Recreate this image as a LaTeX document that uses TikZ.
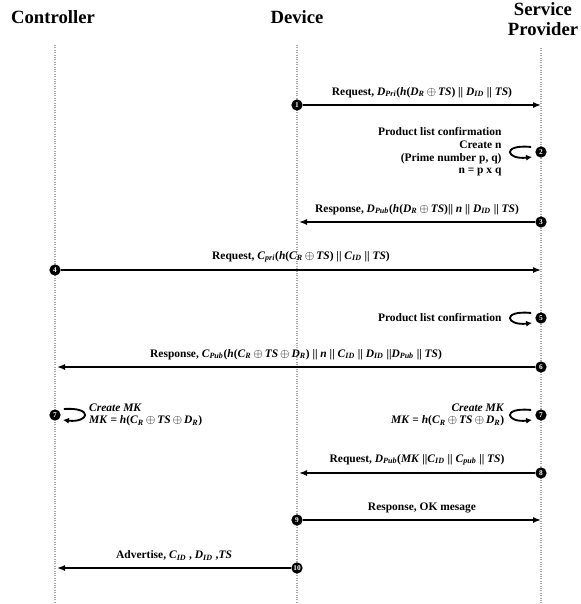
\documentclass[tikz,border=0pt]{standalone}
\usepackage{fontspec}
\setmainfont{Liberation Serif}
\usepackage{amsmath,amssymb}
\usetikzlibrary{arrows.meta,positioning}

% bold italic symbol with subscript
\newcommand{\bv}[2]{\textbf{\textit{#1}}\textsubscript{\textbf{\textit{#2}}}}
\newcommand{\bi}[1]{\textbf{\textit{#1}}}
\newcommand{\xo}{\,$\oplus$\,}

\begin{document}
\begin{tikzpicture}[x=0.75pt, y=-0.75pt,
    actor/.style={font=\fontsize{14}{14.5}\selectfont\bfseries, align=center},
    lifeline/.style={gray!70, densely dotted, line width=0.8pt},
    stepnum/.style={circle, fill=black, inner sep=0pt, minimum size=8.5pt,
                    text=white, font=\fontsize{5.5}{5.5}\selectfont\bfseries},
    msg/.style={-{Latex[length=6pt,width=4.5pt]}, line width=1.1pt},
    loopy/.style={-{Latex[length=4.5pt,width=4.5pt]}, line width=1.4pt},
    lbl/.style={font=\fontsize{8.6}{9.5}\selectfont\bfseries, inner sep=1pt}
]
\useasboundingbox (0,0) rectangle (581,604);

% Actors
\node[actor] (ctl) at (53,17) {Controller};
\node[actor] (dev) at (297,17) {Device};
\node[actor] (sp) at (543,19) {Service\\Provider};

% Lifelines
\coordinate (ctltop) at (55,45);
\coordinate (ctlbot) at (55,604);
\coordinate (devtop) at (297,45);
\coordinate (devbot) at (297,604);
\coordinate (sptop) at (541,48);
\coordinate (spbot) at (541,604);
\draw[lifeline] (ctltop) -- (ctlbot);
\draw[lifeline] (devtop) -- (devbot);
\draw[lifeline] (sptop) -- (spbot);

% Steps
\node[stepnum] (s1) at (297,105) {1};
\node[stepnum] (s2) at (541,152) {2};
\node[stepnum] (s3) at (541,222) {3};
\node[stepnum] (s4) at (55,270) {4};
\node[stepnum] (s5) at (541,318) {5};
\node[stepnum] (s6) at (541,367) {6};
\node[stepnum] (c7) at (55,415) {7};
\node[stepnum] (s7) at (541,415) {7};
\node[stepnum] (s8) at (541,473) {8};
\node[stepnum] (s9) at (297,520) {9};
\node[stepnum] (s10) at (297,568) {10};

% Message ends
\coordinate (e1) at (541,105);
\coordinate (e3) at (299,222);
\coordinate (e4) at (541,270);
\coordinate (e6) at (57,367);
\coordinate (e8) at (299,473);
\coordinate (e9) at (541,520);
\coordinate (e10) at (57,568);

% Messages
\draw[msg] (s1) -- (e1) node[lbl, midway, above=4pt]
    {Request, \bv{D}{Pri}(\bi{h}(\bv{D}{R}\xo\bi{TS}) || \bv{D}{ID} || \bi{TS})};
\draw[msg] (s3) -- (e3) node[lbl, midway, above=4pt]
    {Response, \bv{D}{Pub}(\bi{h}(\bv{D}{R}\xo\bi{TS})|| \bi{n} || \bv{D}{ID} || \bi{TS})};
\draw[msg] (s4) -- (e4) node[lbl, midway, above=4pt]
    {Request, \bv{C}{pri}(\bi{h}(\bv{C}{R}\xo\bi{TS}) || \bv{C}{ID} || \bi{TS})};
\draw[msg] (s6) -- (e6) node[lbl, midway, above=4pt]
    {Response, \bv{C}{Pub}(\bi{h}(\bv{C}{R}\xo\bi{TS}\xo\bv{D}{R}) || \bi{n} || \bv{C}{ID} || \bv{D}{ID} ||\bv{D}{Pub} || \bi{TS})};
\draw[msg] (s8) -- (e8) node[lbl, midway, above=4pt]
    {Request, \bv{D}{Pub}(\bi{MK} ||\bv{C}{ID} || \bv{C}{pub} || \bi{TS})};
\draw[msg] (s9) -- (e9) node[lbl, midway, above=4pt]
    {Response, OK mesage};
\draw[msg] (s10) -- (e10) node[lbl, midway, above=4pt]
    {Advertise, \bv{C}{ID} , \bv{D}{ID} ,\bi{TS}};

% Self steps
\draw[loopy] ([shift={(-4,-5)}]s2.west) .. controls +(-30,-3) and +(-26,3) .. ([shift={(-3,5)}]s2.west);
\node[lbl, align=right, left=24pt of s2]
    {Product list confirmation\\Create n\\(Prime number p, q)\\n = p x q};
\draw[loopy] ([shift={(-4,-5)}]s5.west) .. controls +(-30,-3) and +(-26,3) .. ([shift={(-3,5)}]s5.west);
\node[lbl, left=24pt of s5] {Product list confirmation};
\draw[loopy] ([shift={(3,-6)}]c7.east) .. controls +(30,-2) and +(26,3) .. ([shift={(2,5)}]c7.east);
\node[lbl, align=left, right=20pt of c7]
    {\bi{Create MK}\\\bi{MK} = \bi{h}(\bv{C}{R}\xo\bi{TS}\xo\bv{D}{R})};
\draw[loopy] ([shift={(-4,-5)}]s7.west) .. controls +(-30,-3) and +(-26,3) .. ([shift={(-3,5)}]s7.west);
\node[lbl, align=right, left=22pt of s7]
    {\bi{Create MK}\\\bi{MK} = \bi{h}(\bv{C}{R}\xo\bi{TS}\xo\bv{D}{R})};

\end{tikzpicture}
\end{document}
